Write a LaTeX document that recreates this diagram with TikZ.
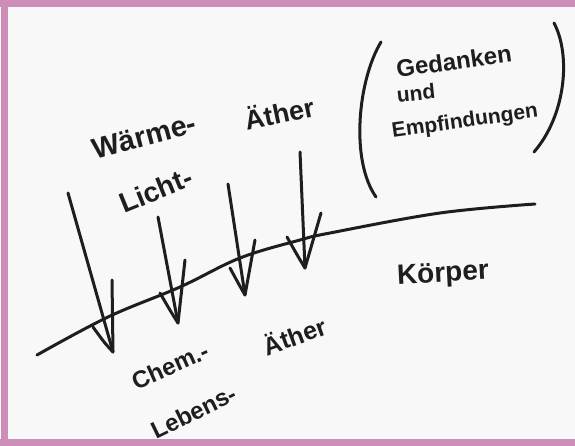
\documentclass[tikz,border=0pt]{standalone}
\usepackage{fontspec}
\setmainfont{Liberation Sans}
\usetikzlibrary{calc}
\definecolor{ink}{HTML}{1E1E1E}
\definecolor{paper}{HTML}{F8F8F8}
\definecolor{frame}{HTML}{CC8DB8}
\newcommand{\fs}[1]{\fontsize{#1}{#1}\selectfont\bfseries}
\begin{document}
\begin{tikzpicture}[x=1pt,y=-1pt,
  pen/.style={draw=ink,line width=3pt,line cap=round,line join=round},
  hand/.style={text=ink,inner sep=0pt,anchor=center}]
\useasboundingbox (0,0) rectangle (575,446);
\fill[paper] (0,0) rectangle (575,446);
\fill[frame] (0,0) rectangle (575,7);
\fill[frame] (1,0) rectangle (8,446);
\fill[frame] (0,439) rectangle (575,446);

% body line
\draw[pen] plot[smooth,tension=0.6] coordinates {(37,355) (108,317) (180,287) (240,258) (300,240) (330,233) (440,213) (535,204)};

% arrows
\coordinate (top1) at (68,193);  \coordinate (tip1) at (113,352); \coordinate (lb1) at (93,327);  \coordinate (rb1) at (112,280);
\coordinate (top2) at (158,217); \coordinate (tip2) at (178,323); \coordinate (lb2) at (160,293); \coordinate (rb2) at (185,260);
\coordinate (top3) at (228,184); \coordinate (tip3) at (245,295); \coordinate (lb3) at (230,268); \coordinate (rb3) at (255,240);
\coordinate (top4) at (300,152); \coordinate (tip4) at (305,268); \coordinate (lb4) at (287,237); \coordinate (rb4) at (321,213);
\foreach \i in {1,2,3,4}{
  \draw[pen] (top\i) -- (tip\i);
  \draw[pen] (lb\i) .. controls ($(lb\i)!0.5!(tip\i)+(2,4)$) .. (tip\i) -- (rb\i);
}

% parentheses
\draw[pen] (381,42) .. controls (358,80) and (350,160) .. (376,197);
\draw[pen] (554,23) .. controls (571,55) and (566,115) .. (534,152);

% texts
\node[hand,font=\fs{29},rotate=15] (waerme) at (144,136) {Wärme-};
\node[hand,font=\fs{27},rotate=12] (aether1) at (279,112) {Äther};
\node[hand,font=\fs{28},rotate=22] (licht) at (156,190) {Licht-};
\node[hand,font=\fs{24},rotate=8] (ged) at (454,61) {Gedanken};
\node[hand,font=\fs{21},rotate=6] (und) at (416,93) {und};
\node[hand,font=\fs{21},rotate=8] (empf) at (465,122) {Empfindungen};
\node[hand,font=\fs{28},rotate=3] (koerper) at (443,275) {Körper};
\node[hand,font=\fs{24},rotate=24] (chem) at (170,366) {Chem.-};
\node[hand,font=\fs{25},rotate=20] (aether2) at (294,335) {Äther};
\node[hand,font=\fs{24},rotate=26] (lebens) at (194,412) {Lebens-};
\end{tikzpicture}
\end{document}
